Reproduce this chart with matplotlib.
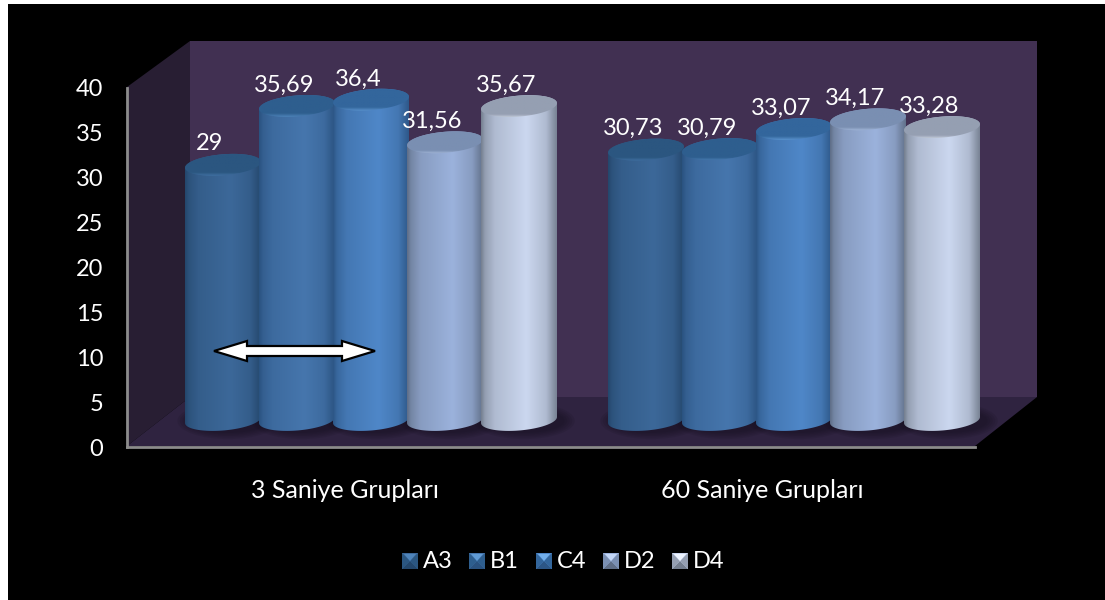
import numpy as np
import matplotlib
matplotlib.use('Agg')
import matplotlib.pyplot as plt
from matplotlib.colors import LinearSegmentedColormap
from matplotlib.patches import Polygon, Rectangle, Ellipse
from matplotlib.transforms import Affine2D

plt.rcParams['font.family'] = ['Lato', 'DejaVu Sans']

GROUPS = ['3 Saniye Grupları', '60 Saniye Grupları']
SERIES = ['A3', 'B1', 'C4', 'D2', 'D4']
VALUES = [[29, 30.73], [35.69, 30.79], [36.4, 33.07], [31.56, 34.17], [35.67, 33.28]]
LABELS = [['29', '30,73'], ['35,69', '30,79'], ['36,4', '33,07'], ['31,56', '34,17'], ['35,67', '33,28']]
YTICKS = [0, 5, 10, 15, 20, 25, 30, 35, 40]

# edge, middle, top face, top rim
COLORS = [('#24476c', '#3c6899', '#2b5680', '#4f84ba'),
          ('#2a5280', '#4676ad', '#2e5e8e', '#609ad4'),
          ('#2c5686', '#4f87c8', '#33669c', '#72aeea'),
          ('#5f6e87', '#9bb2dc', '#7a8fb2', '#c4d8f8'),
          ('#757f90', '#cbd7ef', '#959fb2', '#eef4ff')]

W, H = 1105, 600
FS = 17
fig = plt.figure(figsize=(W / 100, H / 100), dpi=100, facecolor='white')
px = Affine2D().scale(1, -1).translate(0, H)


def box(x0, y0, x1, y1):
    return [x0 / W, 1 - y1 / H, (x1 - x0) / W, (y1 - y0) / H]


def shape(points, color, z, **kw):
    fig.add_artist(Polygon(points, closed=True, fc=color, ec=kw.pop('ec', 'none'),
                           transform=px, zorder=z, **kw))


fig.add_artist(Rectangle((8, 4), W - 8, H - 4, fc='black', ec='none', transform=px, zorder=-5))
shape([(190, 41), (1037, 41), (1037, 397), (190, 397)], '#413052', -4)
shape([(127, 87), (190, 41), (190, 397), (127, 446)], '#281e33', -4)
shape([(127, 446), (190, 397), (1037, 397), (975, 446)], '#2f2340', -4)

# front plane: value axis and category labels
ax = fig.add_axes(box(127, 88, 975, 447))
ax.patch.set_visible(False)
ax.set_xlim(-0.5, 1.5)
ax.set_ylim(0, 40)
ax.set_yticks(YTICKS)
ax.set_xticks([0.014, 0.998])
ax.set_xticklabels(GROUPS, fontsize=18, color='white')
ax.tick_params(axis='y', length=0, pad=17, labelsize=FS, labelcolor='white')
ax.tick_params(axis='x', length=0, pad=23)
for s in ['top', 'right']:
    ax.spines[s].set_visible(False)
for s in ['left', 'bottom']:
    ax.spines[s].set_color('#8c8c8c')
    ax.spines[s].set_linewidth(2)

# cylinders stand further back, so they get their own scale
base_px, unit_px = 420, 8.8
x0_px, x_step = 371, 423
bx = fig.add_axes(box(127, 41, 1037, 447))
bx.axis('off')
bx.set_xlim((127 - x0_px) / x_step, (1037 - x0_px) / x_step)
bx.set_ylim((base_px - 447) / unit_px, (base_px - 41) / unit_px)
bx.set_autoscale_on(False)

bar_w = 76 / x_step
step = 74 / x_step
a = bar_w / 2
b = 10.5 / unit_px
tilt = 3.0 / unit_px
t = np.linspace(0, 2 * np.pi, 121)

# brightness across a cylinder, left to right
shade = np.interp(np.linspace(0, 1, 150), [0, 0.05, 0.18, 0.6, 0.86, 1], [0, 0.35, 0.68, 1, 0.68, 0.05])


def ring(cx, cy, tt):
    return np.column_stack([cx + a * np.cos(tt), cy + b * np.sin(tt) + tilt * np.cos(tt)])


for i in range(len(SERIES)):
    edge, mid, top, rim = COLORS[i]
    side = LinearSegmentedColormap.from_list('side', [edge, mid])
    cap = LinearSegmentedColormap.from_list('cap', [top, top, rim])
    for g in range(len(GROUPS)):
        v = VALUES[i][g]
        cx = g + (i - 2) * step

        # soft shadow on the floor
        for k in range(5):
            bx.add_patch(Ellipse((cx + 0.012, -0.1), 2 * a + (5 - k) * 0.012, 2 * b + (5 - k) * 0.35,
                                 fc='#140e1c', ec='none', alpha=0.12, zorder=1))

        below = ring(cx, 0, np.linspace(np.pi, 2 * np.pi, 60))
        upper = ring(cx, v, np.linspace(0, np.pi, 60))
        body = Polygon(np.vstack([below, upper]), transform=bx.transData)
        im = bx.imshow(shade[None, :], cmap=side, vmin=0, vmax=1, aspect='auto', zorder=2 + i * 3,
                       extent=(cx - a, cx + a, -2, v + 3), interpolation='bilinear')
        im.set_clip_path(body)

        # top face, getting lighter towards its front rim
        face = Polygon(ring(cx, v, t), transform=bx.transData)
        im = bx.imshow(np.linspace(0, 1, 40)[:, None] ** 3, cmap=cap, vmin=0, vmax=1, aspect='auto',
                       zorder=3 + i * 3, origin='upper',
                       extent=(cx - a, cx + a, v - b - tilt, v + b + tilt), interpolation='bilinear')
        im.set_clip_path(face)

        bx.annotate(LABELS[i][g], (cx, v), xytext=(-9.5, 15), textcoords='offset points',
                    ha='center', va='center', color='white', fontsize=FS, zorder=40)

# double-headed arrow over the first three cylinders
shape([(214, 351), (247, 341), (247, 346), (342, 346), (342, 341), (375, 351),
       (342, 361), (342, 356), (247, 356), (247, 361)], 'white', 5, ec='black', lw=1.6, joinstyle='miter')

# legend keys with a bevelled look
key_x = [402, 469, 536, 603, 672]
for i, name in enumerate(SERIES):
    x, y0, y1, s = key_x[i], 553, 569, 16
    xm, ym = x + s / 2, y0 + s / 2
    edge, mid, top, rim = COLORS[i]
    shape([(x, y0), (x + s, y0), (x + s, y1), (x, y1)], mid, 5)
    shape([(x, y1), (x + s, y1), (xm, ym)], edge, 5)
    shape([(x, y0), (xm, ym), (x, y1)], top, 5)
    shape([(x + s, y0), (xm, ym), (x + s, y1)], top, 5)
    shape([(x + 2, y0 + 1), (x + s - 2, y0 + 1), (xm, ym)], rim, 5)
    fig.text((x + 21) / W, 1 - 561 / H, name, color='white', fontsize=FS, ha='left', va='center')

fig.savefig('out.png', dpi=100, facecolor=fig.get_facecolor())
